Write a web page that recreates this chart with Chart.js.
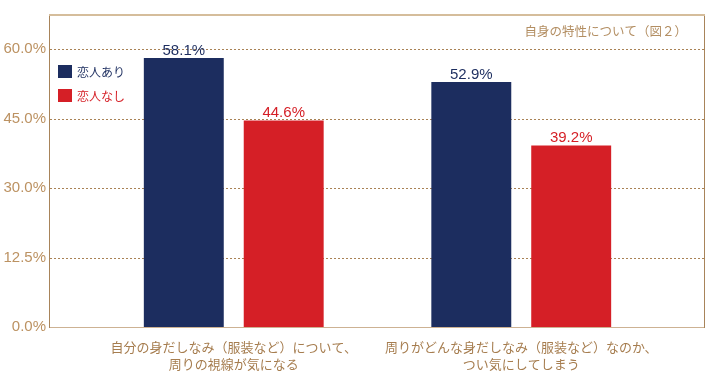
<!DOCTYPE html>
<html><head><meta charset="utf-8">
<script src="https://cdn.jsdelivr.net/npm/chart.js@4/dist/chart.umd.min.js"></script>
<style>html,body{margin:0;padding:0;background:#fff}#wrap{width:710px;height:381px;position:relative}</style>
</head><body><div id="wrap"><canvas id="c" width="710" height="381"></canvas></div>
<script>
const categories = [["自分の身だしなみ（服装など）について、","周りの視線が気になる"],["周りがどんな身だしなみ（服装など）なのか、","つい気にしてしまう"]];
const seriesNames = ["恋人あり","恋人なし"];
const withPartner = [58.1, 52.9];
const withoutPartner = [44.6, 39.2];
const tickValues = [0, 15, 30, 45, 60];
const tickLabels = ["0.0%","12.5%","30.0%","45.0%","60.0%"];
const chartTitle = "自身の特性について（図２）";

const NAVY = '#1c2d5f', RED = '#d51f26';
const JP = '"Noto Sans CJK JP", "Noto Sans", sans-serif';
const NUM = '"Liberation Sans", Arial, sans-serif';

const framePlugin = {
  id: 'frame',
  beforeDatasetsDraw(chart) {
    const ctx = chart.ctx, ys = chart.scales.y;
    const L = 50, R = 704;
    ctx.save();
    ctx.strokeStyle = '#a98255'; ctx.lineWidth = 1; ctx.setLineDash([2, 2]);
    ys.ticks.forEach(t => {
      if (t.value === 0) return;
      const py = Math.round(ys.getPixelForValue(t.value)) + 0.5;
      ctx.beginPath(); ctx.moveTo(L, py); ctx.lineTo(R, py); ctx.stroke();
    });
    ctx.restore();
  },
  afterDatasetsDraw(chart) {
    const ctx = chart.ctx, a = chart.chartArea;
    const L = 49.5, R = 704.5;
    ctx.save();
    // frame
    ctx.lineWidth = 2; ctx.strokeStyle = '#d5bd9b';
    ctx.beginPath(); ctx.moveTo(49, a.top); ctx.lineTo(705, a.top); ctx.stroke();
    ctx.lineWidth = 1; ctx.strokeStyle = '#cdb293';
    ctx.beginPath(); ctx.moveTo(49, Math.round(a.bottom) + 0.5); ctx.lineTo(705, Math.round(a.bottom) + 0.5); ctx.stroke();
    ctx.strokeStyle = '#a8845a';
    ctx.beginPath(); ctx.moveTo(L, a.top + 1); ctx.lineTo(L, a.bottom + 1); ctx.stroke();
    ctx.beginPath(); ctx.moveTo(R, a.top + 1); ctx.lineTo(R, a.bottom + 1); ctx.stroke();
    // value labels
    ctx.font = '15px ' + NUM; ctx.textAlign = 'center'; ctx.textBaseline = 'alphabetic';
    chart.data.datasets.forEach((ds, i) => {
      chart.getDatasetMeta(i).data.forEach((bar, j) => {
        ctx.fillStyle = ds.backgroundColor;
        ctx.fillText(ds.data[j].toFixed(1) + '%', bar.x, bar.y - 3.5);
      });
    });
    // legend
    ctx.textAlign = 'left'; ctx.textBaseline = 'middle'; ctx.font = '12px ' + JP;
    chart.data.datasets.forEach((ds, i) => {
      ctx.fillStyle = ds.backgroundColor;
      ctx.fillRect(58, 65 + 24 * i, 14, 13);
      ctx.fillText(ds.label, 77, 72 + 24 * i);
    });
    // title
    ctx.fillStyle = '#b38e62'; ctx.font = '12.5px ' + JP; ctx.textAlign = 'right';
    ctx.fillText(chartTitle, 687, 31);
    ctx.restore();
  }
};

new Chart(document.getElementById('c'), {
  type: 'bar',
  data: {
    labels: categories,
    datasets: [
      { label: seriesNames[0], data: withPartner, backgroundColor: NAVY, categoryPercentage: 0.695, barPercentage: 0.8 },
      { label: seriesNames[1], data: withoutPartner, backgroundColor: RED, categoryPercentage: 0.695, barPercentage: 0.8 }
    ]
  },
  options: {
    responsive: false,
    devicePixelRatio: 1,
    animation: false,
    layout: { padding: { top: 15, right: 45, left: 0, bottom: 0 } },
    plugins: { legend: { display: false }, tooltip: { enabled: false } },
    scales: {
      x: {
        offset: true,
        grid: { display: false, drawTicks: false },
        border: { display: false },
        ticks: { color: '#a67d4f', font: { family: JP, size: 13, lineHeight: 1.35 }, padding: 11, maxRotation: 0, autoSkip: false },
        afterFit(s) { s.height = 54; }
      },
      y: {
        min: 0, max: 67.4,
        grid: { display: false, drawTicks: true, tickLength: 40 },
        border: { display: false },
        afterBuildTicks(s) { s.ticks = tickValues.map(v => ({ value: v })); },
        ticks: {
          color: '#bc9262', font: { family: NUM, size: 15 }, padding: 4,
          callback(v) { return tickLabels[tickValues.indexOf(v)]; }
        },
        afterFit(s) { s.width = 90; }
      }
    }
  },
  plugins: [framePlugin]
});
</script></body></html>
